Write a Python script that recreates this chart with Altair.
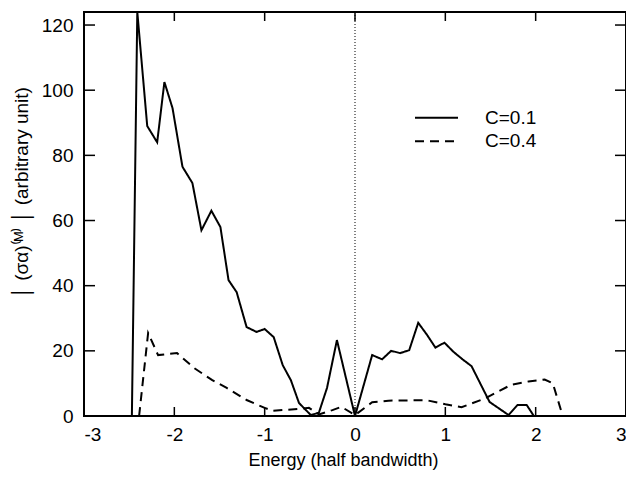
import altair as alt
import pandas as pd

# ---- data ----
energy_c01 = [-2.47, -2.41, -2.30, -2.19, -2.11, -2.02, -1.91, -1.80, -1.70, -1.59,
              -1.49, -1.40, -1.31, -1.20, -1.09, -1.00, -0.90, -0.80, -0.71, -0.62,
              -0.49, -0.40, -0.31, -0.20, 0.00, 0.19, 0.30, 0.40, 0.50, 0.60,
              0.70, 0.80, 0.89, 0.99, 1.09, 1.19, 1.29, 1.49, 1.70, 1.80, 1.90, 1.98]
value_c01 = [0, 124, 89, 84, 102.5, 94.5, 76.5, 71.5, 57, 63,
             58, 41.7, 38, 27.3, 25.8, 26.7, 24.2, 15.6, 11, 4,
             0.3, 1, 8.6, 23.3, 0, 18.7, 17.4, 20, 19.3, 20.2,
             28.6, 24.8, 21, 22.5, 19.7, 17.4, 15.3, 4.3, 0.3, 3.4, 3.4, 0]

energy_c04 = [-2.39, -2.29, -2.18, -1.97, -1.78, -1.58, -1.42, -1.20, -1.00, -0.91,
              -0.62, -0.51, -0.40, -0.25, -0.15, 0.00, 0.19, 0.37, 0.60, 0.80,
              1.00, 1.18, 1.44, 1.73, 1.92, 2.10, 2.19, 2.28]
value_c04 = [0, 25.5, 18.7, 19.3, 14.7, 11, 8.6, 4.9, 2.5, 1.6,
             2.2, 2.5, 0.5, 1.8, 2.8, 0.3, 4.2, 4.7, 4.8, 4.8,
             3.6, 2.7, 5.4, 9.6, 10.6, 11.2, 10, 1.8]

series_names = ["C=0.1", "C=0.4"]
x_ticks = [-3, -2, -1, 0, 1, 2, 3]
y_ticks = [0, 20, 40, 60, 80, 100, 120]

df = pd.concat([
    pd.DataFrame({"E": energy_c01, "v": value_c01, "s": series_names[0]}),
    pd.DataFrame({"E": energy_c04, "v": value_c04, "s": series_names[1]}),
])

W, H = 542, 404
FONT = "Liberation Sans"

xs = alt.Scale(domain=[-3, 3], nice=False, zero=False)
ys = alt.Scale(domain=[0, 124], nice=False, zero=False)
dash = alt.Scale(domain=series_names, range=[[1, 0], [9, 6]])

xaxis = alt.Axis(values=x_ticks, ticks=False, domain=False, grid=False, labelFontSize=19,
                 labelFont=FONT, labelPadding=9, labelColor="black",
                 labelExpr="'' + datum.value",
                 title="Energy (half bandwidth)", titleFont=FONT, titleFontSize=18,
                 titleFontWeight="normal", titleColor="black", titleX=259, titleY=49,
                 titleBaseline="alphabetic", titleAlign="center")
yaxis = alt.Axis(values=y_ticks, ticks=False, domain=False, grid=False, labelFontSize=19,
                 labelFont=FONT, labelPadding=11, labelColor="black",
                 title="│ (σα)⁽ᴹ⁾ │  (arbitrary unit)", titleFont=FONT, titleFontSize=19,
                 titleFontWeight="normal", titleColor="black", titleX=-63, titleY=180,
                 titleAngle=270, titleAlign="center", titleBaseline="middle")

lines = alt.Chart(df).mark_line(color="black", strokeWidth=2, clip=True).encode(
    x=alt.X("E:Q", scale=xs, axis=xaxis),
    y=alt.Y("v:Q", scale=ys, axis=yaxis),
    strokeDash=alt.StrokeDash("s:N", scale=dash, legend=None),
    detail="s:N",
    order="E:Q",
)

zero_line = alt.Chart(pd.DataFrame({"x": [0]})).mark_rule(
    color="black", strokeWidth=1, strokeDash=[1, 2]).encode(x=alt.X("x:Q", scale=xs))

xt = pd.DataFrame({"t": x_ticks})
yt = pd.DataFrame({"t": y_ticks})
tick_len = 9
xticks_bottom = alt.Chart(xt).mark_rule(color="black", strokeWidth=1.5).encode(
    x=alt.X("t:Q", scale=xs), y=alt.value(H - tick_len), y2=alt.value(H))
xticks_top = alt.Chart(xt).mark_rule(color="black", strokeWidth=1.5).encode(
    x=alt.X("t:Q", scale=xs), y=alt.value(0), y2=alt.value(tick_len))
yticks_left = alt.Chart(yt).mark_rule(color="black", strokeWidth=1.5).encode(
    y=alt.Y("t:Q", scale=ys, axis=None), x=alt.value(0), x2=alt.value(tick_len + 2))
yticks_right = alt.Chart(yt).mark_rule(color="black", strokeWidth=1.5).encode(
    y=alt.Y("t:Q", scale=ys, axis=None), x=alt.value(W - tick_len - 2), x2=alt.value(W))

leg = pd.DataFrame({"s": series_names, "row": [0, 1]})
leg_lines = alt.Chart(leg).mark_rule(color="black", strokeWidth=2).encode(
    x=alt.value(331), x2=alt.value(374),
    y=alt.Y("row:O", scale=alt.Scale(domain=[0, 1], range=[94, 141]), axis=None),
    strokeDash=alt.StrokeDash("s:N", scale=dash, legend=None),
)
leg_text = alt.Chart(leg).mark_text(align="left", baseline="middle", fontSize=19,
                                    font=FONT, color="black").encode(
    x=alt.value(401),
    y=alt.Y("row:O", scale=alt.Scale(domain=[0, 1], range=[94, 141]), axis=None),
    text="s:N",
)

chart = alt.layer(
    zero_line, lines, xticks_bottom, xticks_top, yticks_left, yticks_right,
    leg_lines, leg_text
).resolve_scale(y="independent").properties(
    width=W, height=H,
    padding={"left": 76, "top": 4, "right": 0, "bottom": 54},
    autosize=alt.AutoSizeParams(type="none"),
).configure_view(stroke="black", strokeWidth=2)

chart.save("out.html", embed_options={"renderer": "svg", "actions": False})
